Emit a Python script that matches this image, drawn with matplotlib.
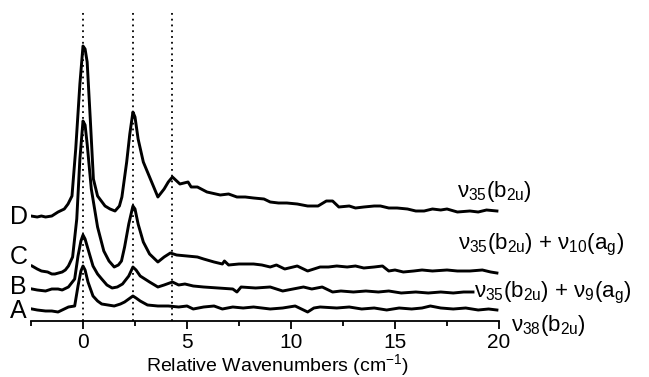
import matplotlib
matplotlib.use("Agg")
import matplotlib.pyplot as plt
from matplotlib.ticker import MultipleLocator

plt.rcParams['font.family'] = ['Liberation Sans', 'DejaVu Sans']
plt.rcParams['mathtext.fontset'] = 'custom'
plt.rcParams['mathtext.rm'] = 'Liberation Sans'
plt.rcParams['mathtext.it'] = 'Liberation Sans'
plt.rcParams['mathtext.bf'] = 'Liberation Sans:bold'

# ---- data (relative wavenumber, stacked intensity a.u.) ----
x_D = [-2.5, -2.2, -2.0, -1.8, -1.5, -1.2, -0.9, -0.72, -0.53, -0.35, -0.15, 0.0, 0.1, 0.2, 0.35, 0.5, 0.7,
       1.06, 1.3, 1.54, 1.75, 1.87, 2.1, 2.25, 2.4, 2.5, 2.65, 2.9, 3.3, 3.6, 3.9, 4.1, 4.3, 4.66, 5.05, 5.2,
       5.5, 5.96, 6.6, 7.0, 7.4, 7.8, 8.2, 8.7, 9.0, 9.4, 9.8, 10.3, 10.8, 11.3, 11.7, 12.0, 12.3, 12.8, 13.1,
       13.5, 14.0, 14.3, 14.7, 15.1, 15.6, 16.0, 16.4, 16.8, 17.2, 17.5, 18.0, 18.6, 19.0, 19.4, 19.9]
y_D = [105, 104, 105, 104, 105, 109, 112, 117, 125, 172, 237, 275, 272, 259, 202, 142, 125,
       115, 112, 110, 115, 124, 159, 187, 209, 204, 182, 159, 139, 124, 132, 139, 144, 137, 139, 134,
       134, 129, 126, 127, 124, 124, 123, 122, 119, 118, 118, 117, 115, 115, 120, 120, 114, 115, 113,
       114, 115, 115, 113, 113, 112, 110, 110, 112, 111, 112, 109, 110, 109, 111, 110]

x_C = [-2.45, -2.2, -2.0, -1.7, -1.5, -1.35, -1.0, -0.85, -0.7, -0.5, -0.3, -0.15, 0.0, 0.1, 0.2, 0.4, 0.7,
       1.0, 1.25, 1.5, 1.7, 1.85, 2.0, 2.2, 2.4, 2.5, 2.65, 2.9, 3.2, 3.6, 3.9, 4.2, 4.5, 5.0, 5.5, 5.8,
       6.3, 6.7, 6.8, 7.0, 7.5, 8.2, 8.6, 9.0, 9.3, 9.7, 10.3, 10.8, 11.1, 11.4, 11.8, 12.2, 12.7, 13.1,
       13.5, 14.0, 14.4, 14.7, 15.0, 15.4, 15.9, 16.3, 16.8, 17.5, 18.0, 18.6, 19.2, 19.6, 19.9]
y_C = [55, 52, 50, 49, 47, 47, 49, 51, 55, 64, 102, 162, 200, 196, 177, 132, 94,
       70, 60, 54, 56, 60, 74, 97, 115, 112, 97, 79, 67, 59, 64, 68, 66, 65, 64, 62,
       59, 57, 60, 56, 57, 57, 56, 54, 56, 52, 55, 50, 52, 54, 54, 55, 54, 55,
       53, 54, 55, 50, 51, 49, 50, 51, 50, 51, 50, 50, 51, 49, 48]

x_B = [-2.45, -2.2, -1.8, -1.5, -1.2, -1.0, -0.7, -0.4, -0.24, -0.1, 0.0, 0.1, 0.24, 0.48, 0.7, 0.9,
       1.15, 1.4, 1.65, 1.9, 2.2, 2.4, 2.55, 2.75, 3.2, 3.6, 3.9, 4.3, 4.6, 4.9, 5.3, 5.8, 6.5, 7.2, 7.4,
       7.6, 8.3, 9.0, 9.6, 10.1, 10.6, 11.0, 11.5, 12.0, 12.4, 13.0, 13.6, 14.2, 14.7, 15.3, 16.0, 16.6,
       17.2, 17.8, 18.3, 18.75]
y_B = [32, 31, 30, 32, 32, 31, 34, 42, 65, 80, 86, 82, 72, 55, 47, 42,
       36, 33, 34, 37, 45, 54, 51, 45, 39, 34, 36, 39, 36, 37, 35, 34, 33, 32, 29,
       34, 33, 34, 30, 32, 34, 32, 34, 29, 30, 29, 30, 29, 30, 28, 29, 28,
       29, 28, 29, 29]

x_A = [-2.45, -2.2, -1.8, -1.5, -1.2, -1.0, -0.7, -0.4, -0.24, -0.1, 0.0, 0.1, 0.24, 0.48, 0.7, 0.9,
       1.2, 1.5, 1.8, 2.0, 2.2, 2.4, 2.55, 2.75, 3.1, 3.6, 4.1, 4.6, 5.0, 5.3, 5.8, 6.3, 6.7, 7.2, 7.7,
       8.2, 9.0, 9.6, 10.2, 10.8, 11.1, 11.4, 12.2, 12.8, 13.4, 14.0, 14.6, 15.2, 15.8, 16.3, 16.7, 17.2,
       17.8, 18.4, 19.0, 19.5, 19.9]
y_A = [12, 11, 10, 10, 9, 11, 14, 15, 35, 50, 55, 51, 39, 25, 20, 17,
       16, 15, 17, 19, 22, 25, 23, 20, 16, 15, 15, 14, 15, 12, 14, 15, 12, 14, 13,
       14, 12, 13, 15, 9, 13, 14, 13, 14, 12, 13, 11, 13, 12, 13, 15, 13,
       12, 13, 11, 12, 11]

trace_letters = ['A', 'B', 'C', 'D']
letter_y = [10, 34, 64, 104]
assignments = [r'$\nu_{38}$(b$_{2u}$)',
               r'$\nu_{35}$(b$_{2u}$) + $\nu_{9}$(a$_{g}$)',
               r'$\nu_{35}$(b$_{2u}$) + $\nu_{10}$(a$_{g}$)',
               r'$\nu_{35}$(b$_{2u}$)']
assign_x = [20.6, 18.8, 18.05, 18.0]
assign_y = [-10, 24, 72, 124]
marker_lines = [0.0, 2.4, 4.3]

fig = plt.figure(figsize=(6.49, 3.77), dpi=100)
ax = fig.add_axes([31/649, 1-321/377, (499-31)/649, (321-10)/377])

for xs, ys in [(x_A, y_A), (x_B, y_B), (x_C, y_C), (x_D, y_D)]:
    ax.plot(xs, ys, color='black', lw=2.1, solid_joinstyle='round', zorder=3)

for xm in marker_lines:
    ax.axvline(xm, color='black', lw=1.3, ls=(0, (1, 2.2)), zorder=2)

for lt, ly in zip(trace_letters, letter_y):
    ax.text(-3.1, ly, lt, ha='center', va='center', fontsize=18, clip_on=False)

for txt, tx, ty in zip(assignments, assign_x, assign_y):
    ax.text(tx, ty, txt, ha='left', va='baseline', fontsize=16, clip_on=False)

ax.set_xlim(-2.5, 20)
ax.set_ylim(0, 311)
for s in ['left', 'right', 'top']:
    ax.spines[s].set_visible(False)
ax.spines['bottom'].set_linewidth(1.3)
ax.set_yticks([])
ax.xaxis.set_major_locator(MultipleLocator(5))
ax.xaxis.set_minor_locator(MultipleLocator(2.5))
ax.tick_params(axis='x', which='major', direction='out', length=6, width=1.3, labelsize=15, pad=3)
ax.tick_params(axis='x', which='minor', direction='out', length=3.5, width=1.3)
ax.set_xlabel('Relative Wavenumbers (cm$^{-1}$)', fontsize=14)
ax.xaxis.set_label_coords(0.527, -(371 - 321) / 311, transform=ax.transAxes)
ax.xaxis.label.set_va('baseline')

fig.savefig('out.png', dpi=100)
